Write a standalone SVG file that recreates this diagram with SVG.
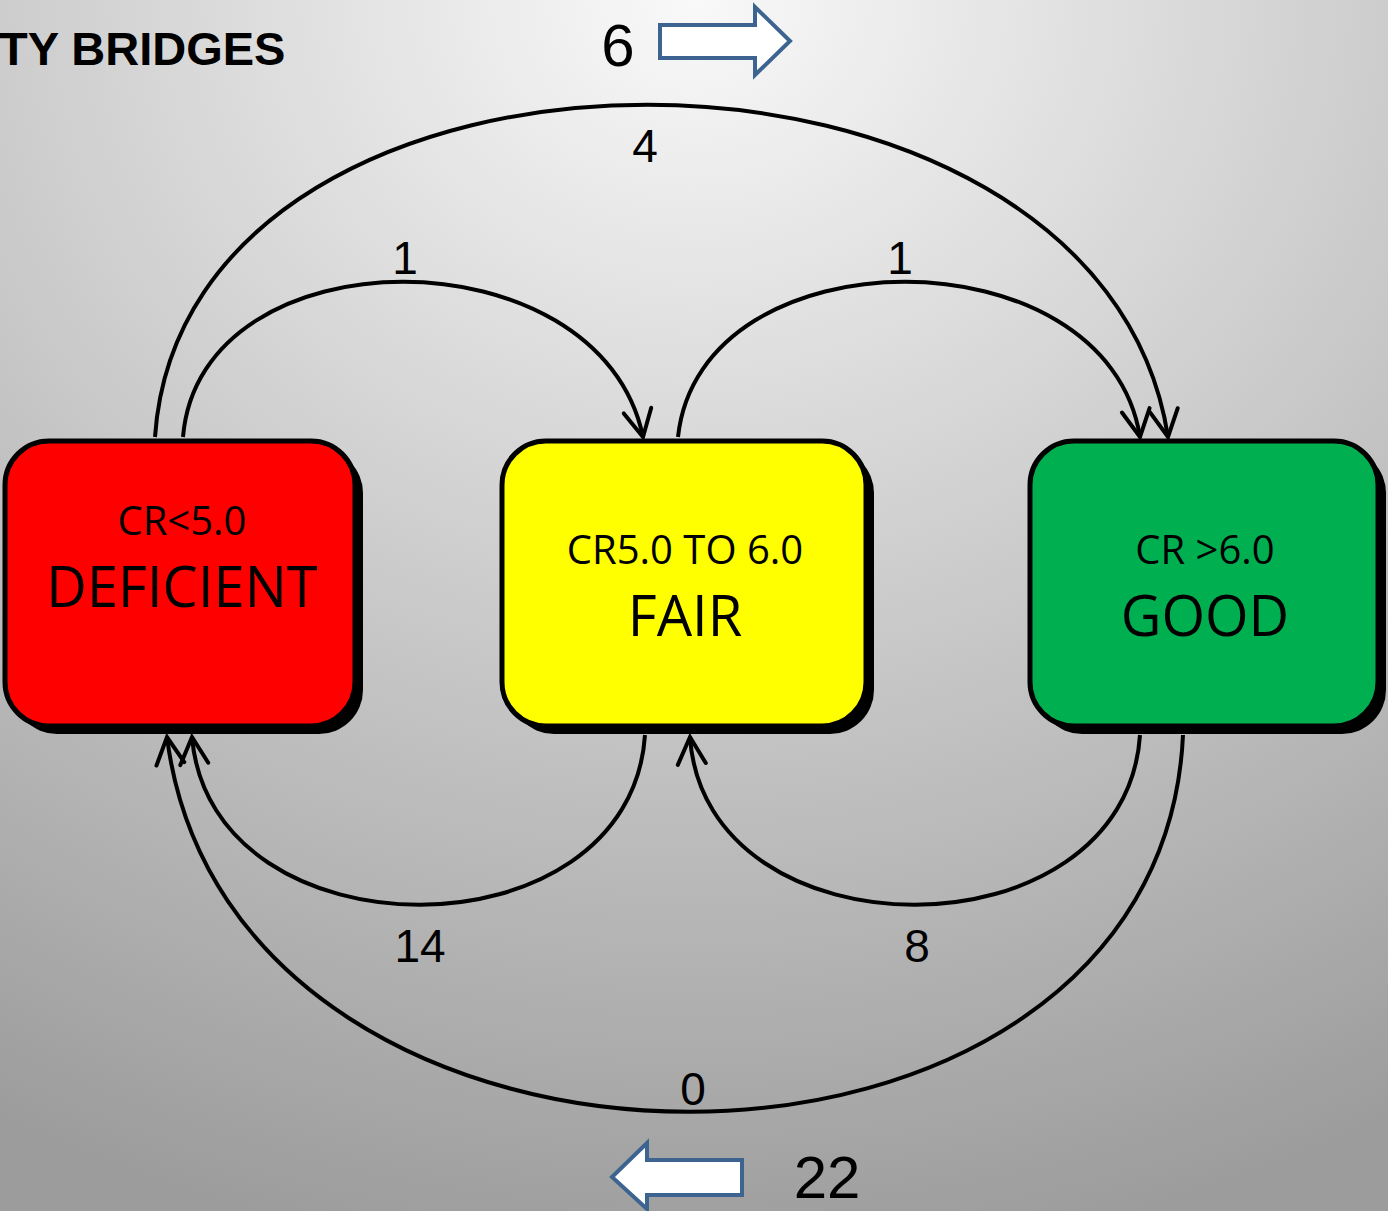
<svg xmlns="http://www.w3.org/2000/svg" width="1388" height="1211" viewBox="0 0 1388 1211">
<defs>
<radialGradient id="bg" cx="0.5" cy="0" r="1.05" fx="0.5" fy="0">
<stop offset="0" stop-color="#f9f9f9"/>
<stop offset="1" stop-color="#9c9c9c"/>
</radialGradient>
<marker id="arr" markerUnits="userSpaceOnUse" markerWidth="34" markerHeight="34" viewBox="0 0 34 34" refX="30" refY="17" orient="auto">
<path d="M3,3 L30,17 L3,31" fill="none" stroke="#000" stroke-width="4" stroke-linecap="round" stroke-linejoin="miter"/>
</marker>
</defs>
<style>
.conn{fill:none;stroke:#000;stroke-width:4;marker-end:url(#arr)}
.box{stroke:#000;stroke-width:5}
.shadow{fill:#000}
.nt{font-family:"Open Sans","Noto Sans",sans-serif;text-anchor:middle;fill:#000}
.lbl{font-family:"Liberation Sans",Arial,sans-serif;font-size:46px;text-anchor:middle;fill:#000}
.big{font-family:"Liberation Sans",Arial,sans-serif;font-size:60px;text-anchor:middle;fill:#000}
.blk{fill:#fff;stroke:#3d6491;stroke-width:4}
</style>
<rect x="0" y="0" width="1388" height="1211" fill="url(#bg)"/>
<text x="-1" y="65" font-family="Liberation Sans,Arial,sans-serif" font-size="47" font-weight="bold" fill="#000">TY BRIDGES</text>

<g id="connectors">
<path class="conn" d="M155,437 C185,-6 1100,-6 1168,437"/>
<path class="conn" d="M183,437 C200,230 600,230 643,437"/>
<path class="conn" d="M678,437 C700,230 1107,230 1140,437"/>
<path class="conn" d="M645,735 C630,961 211,961 192,737"/>
<path class="conn" d="M1140,735 C1125,961 705,961 690,737"/>
<path class="conn" d="M1183,735 C1160,1237 230,1237 167,737"/>
</g>

<g id="labels">
<text class="lbl" x="645" y="162">4</text>
<text class="lbl" x="405" y="274">1</text>
<text class="lbl" x="900" y="274">1</text>
<text class="lbl" x="420" y="962">14</text>
<text class="lbl" x="917" y="962">8</text>
<text class="lbl" x="693" y="1105">0</text>
</g>

<g id="node-deficient">
<rect class="shadow" x="13" y="449" width="350" height="285" rx="44"/>
<rect class="box" x="5" y="441" width="350" height="285" rx="44" fill="#ff0000"/>
<text class="nt" x="182" y="535" font-size="40">CR&lt;5.0</text>
<text class="nt" x="182" y="607" font-size="56">DEFICIENT</text>
</g>
<g id="node-fair">
<rect class="shadow" x="510" y="449" width="364" height="285" rx="44"/>
<rect class="box" x="502" y="441" width="364" height="285" rx="44" fill="#ffff00"/>
<text class="nt" x="685" y="564" font-size="40">CR5.0 TO 6.0</text>
<text class="nt" x="685" y="636" font-size="56">FAIR</text>
</g>
<g id="node-good">
<rect class="shadow" x="1038" y="449" width="348" height="285" rx="44"/>
<rect class="box" x="1030" y="441" width="348" height="285" rx="44" fill="#00b050"/>
<text class="nt" x="1205" y="564" font-size="40">CR &gt;6.0</text>
<text class="nt" x="1205" y="636" font-size="56">GOOD</text>
</g>

<g id="totals">
<text class="big" x="618" y="66">6</text>
<path class="blk" d="M660,25 L755,25 L755,7 L790,41 L755,75 L755,58 L660,58 Z"/>
<text class="big" x="827" y="1198">22</text>
<path class="blk" d="M742,1160 L647,1160 L647,1143 L612,1177 L647,1209 L647,1195 L742,1195 Z"/>
</g>
</svg>
